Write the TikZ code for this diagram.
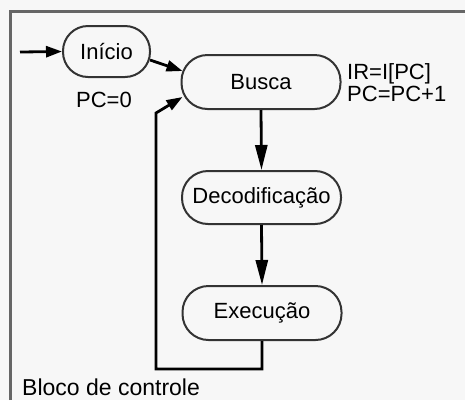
\documentclass[tikz,border=0pt]{standalone}
\usepackage{fontspec}
\setmainfont{Liberation Sans}
\usetikzlibrary{arrows.meta}
\begin{document}
\begin{tikzpicture}[x=1pt,y=-1pt,
  box/.style={draw=black!80, line width=2pt, rectangle, inner sep=0pt,
    font=\fontsize{22}{22}\selectfont, minimum height=54pt, minimum width=159pt, rounded corners=26pt},
  conn/.style={line width=2.8pt, -{Triangle[length=25pt,width=12pt]}},
  connS/.style={line width=2.8pt, -{Triangle[length=16pt,width=11pt]}},
  lbl/.style={font=\fontsize{22}{22}\selectfont, inner sep=0pt}]
\useasboundingbox[fill=black!3] (0,0) rectangle (465,400);
\draw[line width=3pt, draw=black!60] (10,400) -- (10,11) -- (465,11);

\node[box, minimum width=87pt, minimum height=51pt, rounded corners=25pt] (inicio) at (106.5,51.5) {Início};
\node[box] (busca) at (261,82) {Busca};
\node[box, minimum height=53pt] (decod) at (261.5,197.5) {Decodificação};
\node[box] (exec) at (262,313) {Execução};

\node[lbl, anchor=base] (pc0) at (104,107) {PC=0};
\node[lbl, anchor=base west] (ir) at (347,79) {IR=I[PC]};
\node[lbl, anchor=base west] (pcinc) at (347,101) {PC=PC+1};
\node[font=\fontsize{23}{23}\selectfont, inner sep=0pt, anchor=base west] (bloco) at (22,395) {Bloco de controle};

\coordinate (start) at (20,52);
\coordinate (iOut) at (150,60);
\coordinate (bIn) at (182.5,71);
\coordinate (fbA) at (262,369);
\coordinate (fbB) at (156,369);
\coordinate (fbC) at (156,113);
\coordinate (bIn2) at (182.5,97);

\draw[connS] (start) -- (inicio.west);
\draw[connS] (iOut) -- (bIn);
\draw[conn] (busca.south) -- (decod.north);
\draw[conn] (decod.south) -- (exec.north);
\draw[connS, line join=miter] (exec.south) -- (fbA) -- (fbB) -- (fbC) -- (bIn2);
\end{tikzpicture}
\end{document}
